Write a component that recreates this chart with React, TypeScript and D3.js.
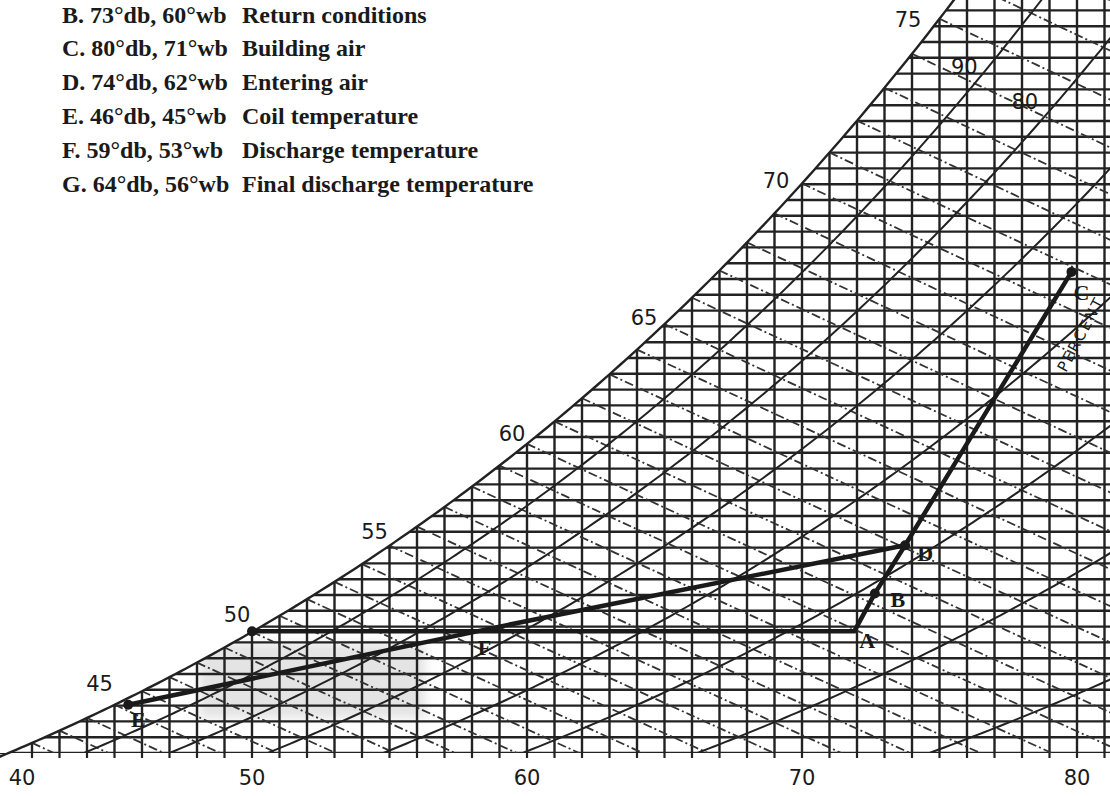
import { useEffect, useRef } from 'react';
import * as d3 from 'd3';

// chart text
const dryBulbTicks = [40, 50, 60, 70, 80];
const satLabelTemps = [45, 50, 55, 60, 65, 70, 75];
const rhLevels = [0.1, 0.2, 0.3, 0.4, 0.5, 0.6, 0.7, 0.8, 0.9];
const rhLabelValues = [90, 80];
const rhLabelTemps = [75.9, 78.1];
const rhLabelLift = [28, 36];

// legend
const legendIds = ['B', 'C', 'D', 'E', 'F', 'G'];
const legendDb = [73, 80, 74, 46, 59, 64];
const legendWb = [60, 71, 62, 45, 53, 56];
const legendNotes = [
  'Return conditions',
  'Building air',
  'Entering air',
  'Coil temperature',
  'Discharge temperature',
  'Final discharge temperature',
];

// process points as plotted (dry bulb F, humidity ratio grains/lb)
const pointIds = ['S', 'E', 'F', 'A', 'B', 'D', 'C'];
const pointDb = [50.0, 45.5, 59.0, 71.9, 72.65, 73.75, 79.8];
const pointW = [53.4, 44.1, 54.0, 53.4, 58.2, 64.3, 98.9];
const coilPath = ['E', 'F', 'D'];
const mainPath = ['S', 'A', 'B', 'D', 'C'];
const dottedIds = ['S', 'E', 'B', 'D', 'C'];
const labelledIds = ['E', 'F', 'A', 'B', 'D', 'C'];

// psychrometrics (grains of moisture per lb dry air)
const P_ATM = 101.325;
const pws = (tF: number) => {
  const c = (tF - 32) / 1.8;
  return 0.61094 * Math.exp((17.625 * c) / (c + 243.04));
};
const wFromPv = (pv: number) => (7000 * 0.622 * pv) / (P_ATM - pv);
const wSat = (t: number) => wFromPv(pws(t));
const wRh = (t: number, rh: number) => wFromPv(rh * pws(t));
const wWb = (tdb: number, twb: number) => {
  const ws = wSat(twb) / 7000;
  const w = ((1093 - 0.556 * twb) * ws - 0.24 * (tdb - twb)) / (1093 + 0.444 * tdb - twb);
  return w * 7000;
};

export default function App() {
  const svgRef = useRef<SVGSVGElement>(null);

  useEffect(() => {
    if (!svgRef.current) return;
    const svg = d3.select(svgRef.current);
    svg.selectAll('*').remove();

    const width = 1110;
    const height = 796;
    const ink = '#222';

    const x = d3.scaleLinear().domain([40, 80]).range([-23, 1077]);
    const y = d3.scaleLinear().domain([38, 134]).range([753, 753 - 7.9 * 96]);
    const wBottom = 38;
    const wTop = 136;

    const line = d3.line<[number, number]>()
      .x(d => x(d[0]))
      .y(d => y(d[1]));

    const tSamples = d3.range(39, 84.01, 0.2);

    const defs = svg.append('defs');
    const clipPts: [number, number][] = tSamples.map(t => [t, wSat(t)]);
    clipPts.push([84, wBottom], [39, wBottom]);
    defs.append('clipPath')
      .attr('id', 'chart-area')
      .append('path')
      .attr('d', line(clipPts) + 'Z');

    defs.append('filter')
      .attr('id', 'smudge')
      .attr('x', '-20%').attr('y', '-40%')
      .attr('width', '140%').attr('height', '180%')
      .append('feGaussianBlur')
      .attr('stdDeviation', 5);

    svg.append('rect')
      .attr('width', width)
      .attr('height', height)
      .attr('fill', '#fff');

    const grid = svg.append('g').attr('clip-path', 'url(#chart-area)');

    // scan smudge
    grid.append('rect')
      .attr('x', x(48.1))
      .attr('y', y(51.9))
      .attr('width', x(56.3) - x(48.1))
      .attr('height', y(42.4) - y(51.9))
      .attr('fill', '#e4e4e4')
      .attr('filter', 'url(#smudge)');

    // horizontal humidity ratio lines every 2 grains
    grid.append('g')
      .selectAll('line')
      .data(d3.range(wBottom, wTop, 2))
      .join('line')
      .attr('x1', 0)
      .attr('x2', width)
      .attr('y1', d => y(d))
      .attr('y2', d => y(d))
      .attr('stroke', ink)
      .attr('stroke-width', 2.4);

    // vertical dry bulb lines every degree
    grid.append('g')
      .selectAll('line')
      .data(d3.range(41, 82))
      .join('line')
      .attr('x1', d => x(d))
      .attr('x2', d => x(d))
      .attr('y1', 0)
      .attr('y2', y(wBottom))
      .attr('stroke', ink)
      .attr('stroke-width', 2.4);

    // wet bulb lines
    grid.append('g')
      .selectAll('path')
      .data(d3.range(40, 84))
      .join('path')
      .attr('d', twb => line(d3.range(twb, 90, 0.5).map(t => [t, wWb(t, twb)] as [number, number])))
      .attr('fill', 'none')
      .attr('stroke', '#333')
      .attr('stroke-width', 1.8)
      .attr('stroke-dasharray', '9,3,2,3');

    // relative humidity curves
    grid.append('g')
      .selectAll('path')
      .data(rhLevels)
      .join('path')
      .attr('d', rh => line(tSamples.map(t => [t, wRh(t, rh)] as [number, number])))
      .attr('fill', 'none')
      .attr('stroke', ink)
      .attr('stroke-width', 2);

    // bottom ticks
    svg.append('g')
      .selectAll('line')
      .data(d3.range(42, 82))
      .join('line')
      .attr('x1', d => x(d))
      .attr('x2', d => x(d))
      .attr('y1', y(wBottom))
      .attr('y2', y(wBottom) + 5)
      .attr('stroke', ink)
      .attr('stroke-width', 2.2);

    // saturation curve
    svg.append('path')
      .attr('d', line(tSamples.filter(t => wSat(t) > wBottom - 1).map(t => [t, wSat(t)] as [number, number])))
      .attr('fill', 'none')
      .attr('stroke', ink)
      .attr('stroke-width', 2.4);

    const sans = '"DejaVu Sans", sans-serif';

    // saturation temperature labels
    svg.append('g')
      .selectAll('text')
      .data(satLabelTemps)
      .join('text')
      .attr('x', t => x(t) - 15 - Math.max(0, t - 60) * 1.1)
      .attr('y', t => y(wSat(t)) - 20 + (t - 45) * 0.75)
      .attr('text-anchor', 'middle')
      .attr('dominant-baseline', 'middle')
      .style('font-family', sans)
      .style('font-size', '21px')
      .style('fill', '#1a1a1a')
      .text(t => t);

    // rh labels
    svg.append('g')
      .selectAll('text')
      .data(rhLabelValues)
      .join('text')
      .attr('x', (d, i) => x(rhLabelTemps[i]))
      .attr('y', (d, i) => y(wRh(rhLabelTemps[i], d / 100)) - rhLabelLift[i])
      .attr('text-anchor', 'middle')
      .attr('dominant-baseline', 'middle')
      .style('font-family', sans)
      .style('font-size', '21px')
      .style('fill', '#1a1a1a')
      .text(d => d);

    svg.append('text')
      .attr('transform', `translate(${x(79.6)},${y(wRh(79.6, 0.6)) + 36}) rotate(-62)`)
      .style('font-family', sans)
      .style('font-size', '15px')
      .style('letter-spacing', '2px')
      .style('fill', '#1a1a1a')
      .text('PERCENT');

    // x axis labels
    svg.append('g')
      .selectAll('text')
      .data(dryBulbTicks)
      .join('text')
      .attr('x', t => Math.max(x(t), 22))
      .attr('y', 779)
      .attr('text-anchor', 'middle')
      .attr('dominant-baseline', 'middle')
      .style('font-family', sans)
      .style('font-size', '21px')
      .style('fill', '#1a1a1a')
      .text(t => t);

    // process lines
    const pt = (id: string): [number, number] => {
      const i = pointIds.indexOf(id);
      return [pointDb[i], pointW[i]];
    };
    [coilPath, mainPath].forEach(p => {
      svg.append('path')
        .attr('d', line(p.map(pt)))
        .attr('fill', 'none')
        .attr('stroke', '#1a1a1a')
        .attr('stroke-width', 4.5)
        .attr('stroke-linejoin', 'round');
    });

    svg.append('g')
      .selectAll('circle')
      .data(dottedIds)
      .join('circle')
      .attr('cx', id => x(pt(id)[0]))
      .attr('cy', id => y(pt(id)[1]))
      .attr('r', 5)
      .attr('fill', '#1a1a1a');

    const labelOffset: Record<string, [number, number]> = {
      E: [10, 17], F: [-15, 23], A: [13, 12], B: [23, 9], D: [20, 11], C: [10, 23],
    };
    svg.append('g')
      .selectAll('text')
      .data(labelledIds)
      .join('text')
      .attr('x', id => x(pt(id)[0]) + labelOffset[id][0])
      .attr('y', id => y(pt(id)[1]) + labelOffset[id][1])
      .attr('text-anchor', 'middle')
      .attr('dominant-baseline', 'middle')
      .style('font-family', '"Liberation Serif", serif')
      .style('font-weight', 'bold')
      .style('font-size', '22px')
      .style('fill', '#1a1a1a')
      .text(id => id);

    // legend
    const legend = svg.append('g')
      .style('font-family', '"Liberation Serif", serif')
      .style('font-weight', 'bold')
      .style('font-size', '24px')
      .style('fill', '#1a1a1a');

    legendIds.forEach((id, i) => {
      const ly = 17 + i * 33.8;
      legend.append('text')
        .attr('x', 62)
        .attr('y', ly)
        .attr('dominant-baseline', 'middle')
        .text(`${id}. ${legendDb[i]}°db, ${legendWb[i]}°wb`);
      legend.append('text')
        .attr('x', 242)
        .attr('y', ly)
        .attr('dominant-baseline', 'middle')
        .text(legendNotes[i]);
    });
  }, []);

  return (
    <svg
      ref={svgRef}
      width={1110}
      height={796}
      style={{ position: 'absolute', left: 0, top: 0, display: 'block' }}
    />
  );
}
